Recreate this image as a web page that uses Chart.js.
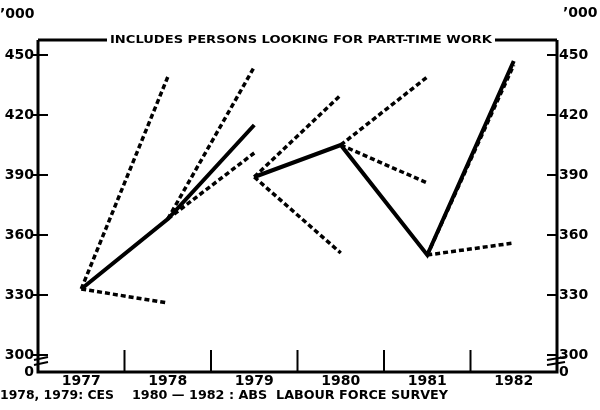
<!DOCTYPE html>
<html>
<head>
<meta charset="utf-8">
<script src="https://cdn.jsdelivr.net/npm/chart.js@4.4.1/dist/chart.umd.min.js"></script>
<style>
html, body { margin: 0; padding: 0; background: #fff; }
</style>
</head>
<body>
<canvas id="grafica" width="600" height="410"></canvas>
<script>
// datos ('000 personas)
const anios = ['1977', '1978', '1979', '1980', '1981', '1982'];
const ticksY = [300, 330, 360, 390, 420, 450];
const serieCES = [333, 368, 415, null, null, null];   // 1977-1979
const serieABS = [null, null, 389, 405, 350, 447];    // 1979-1982
// pronosticos: [indice de inicio, valor inicial, valor final]
const pronosticoAlto = [[0, 333, 439], [1, 368, 444], [2, 389, 430], [3, 405, 439], [4, 350, 445]];
const pronosticoBajo = [[0, 333, 326], [1, 368, 401], [2, 389, 351], [3, 405, 386], [4, 350, 356]];
const titulo = 'INCLUDES PERSONS LOOKING FOR PART-TIME WORK';
const nota1 = '1978, 1979: CES';
const nota2 = '1980 \u2014 1982 : ABS  LABOUR FORCE SURVEY';

const fondoY = 291.5; // valor donde se dibuja el "0" (eje cortado)
const fuente = 'DejaVu Sans';

function lineaPronostico(p) {
    const datos = anios.map(() => null);
    datos[p[0]] = p[1];
    datos[p[0] + 1] = p[2];
    return {
        data: datos,
        borderColor: '#000',
        borderWidth: 3.5,
        borderDash: [5, 3],
        pointRadius: 0,
        tension: 0,
        fill: false
    };
}

function lineaSolida(datos) {
    return {
        data: datos,
        borderColor: '#000',
        borderWidth: 4,
        pointRadius: 0,
        tension: 0,
        fill: false
    };
}

function textoAjustado(ctx, texto, cx, cy, ancho, font) {
    ctx.save();
    ctx.font = font;
    const w = ctx.measureText(texto).width;
    ctx.translate(cx, cy);
    ctx.scale(ancho / w, 1);
    ctx.textAlign = 'center';
    ctx.textBaseline = 'middle';
    ctx.fillText(texto, 0, 0);
    ctx.restore();
}

const decoracion = {
    id: 'decoracion',
    afterDraw(chart) {
        const { ctx, chartArea: a, scales } = chart;
        const x = scales.x, y = scales.y;
        ctx.save();
        ctx.strokeStyle = '#000';
        ctx.fillStyle = '#000';
        ctx.lineCap = 'butt';

        // ejes
        ctx.lineWidth = 3;
        ctx.beginPath();
        ctx.moveTo(a.left, a.top);
        ctx.lineTo(a.left, a.bottom);
        ctx.lineTo(a.right, a.bottom);
        ctx.lineTo(a.right, a.top);
        ctx.stroke();

        // linea superior cortada por el titulo
        ctx.beginPath();
        ctx.moveTo(a.left, a.top);
        ctx.lineTo(107, a.top);
        ctx.moveTo(495, a.top);
        ctx.lineTo(a.right, a.top);
        ctx.stroke();
        textoAjustado(ctx, titulo, 301, a.top, 382, 'bold 11px "' + fuente + '"');

        // marcas del eje Y
        ctx.lineWidth = 2;
        ticksY.forEach(v => {
            const py = y.getPixelForValue(v);
            ctx.beginPath();
            ctx.moveTo(a.left - 5, py);
            ctx.lineTo(a.left + 10, py);
            ctx.moveTo(a.right - 10, py);
            ctx.lineTo(a.right + 1, py);
            ctx.stroke();
        });

        // corte del eje
        const pc = y.getPixelForValue(300);
        [[a.left - 4, a.left + 10], [a.right - 10, a.right + 8]].forEach(([x0, x1]) => {
            ctx.beginPath();
            ctx.moveTo(x0, pc + 5); ctx.lineTo(x1, pc + 2);
            ctx.moveTo(x0, pc + 10); ctx.lineTo(x1, pc + 7);
            ctx.stroke();
        });

        // separadores de anios
        ctx.lineWidth = 2;
        for (let i = 0; i < anios.length - 1; i++) {
            const px = (x.getPixelForValue(i) + x.getPixelForValue(i + 1)) / 2;
            ctx.beginPath();
            ctx.moveTo(px, a.bottom);
            ctx.lineTo(px, a.bottom - 22);
            ctx.stroke();
        }

        // unidades y notas
        ctx.font = 'bold 14px "' + fuente + '"';
        ctx.textBaseline = 'middle';
        ctx.textAlign = 'left';
        ctx.fillText('\u2019000', 0, 14);
        ctx.fillText('\u2019000', 563, 13);
        textoAjustado(ctx, nota1, 57, 396, 114, 'bold 12px "' + fuente + '"');
        textoAjustado(ctx, nota2, 290, 396, 316, 'bold 12px "' + fuente + '"');
        ctx.restore();
    }
};

function ticksFijos(scale) {
    scale.ticks = [fondoY].concat(ticksY).map(v => ({ value: v }));
}

function etiquetaY(v) {
    return v === fondoY ? '0' : v;
}

const ctx = document.getElementById('grafica').getContext('2d');

new Chart(ctx, {
    type: 'line',
    data: {
        labels: anios,
        datasets: [
            lineaSolida(serieCES),
            lineaSolida(serieABS),
            ...pronosticoAlto.map(lineaPronostico),
            ...pronosticoBajo.map(lineaPronostico)
        ]
    },
    options: {
        responsive: false,
        animation: false,
        layout: { padding: { top: 40, left: 0, right: 0, bottom: 0 } },
        plugins: {
            legend: { display: false },
            title: { display: false },
            tooltip: { enabled: false }
        },
        scales: {
            x: {
                offset: true,
                grid: { display: false, drawTicks: false, tickLength: 0 },
                border: { display: false },
                ticks: {
                    color: '#000',
                    padding: 1,
                    maxRotation: 0,
                    font: { family: fuente, size: 14, weight: 'bold' }
                },
                afterFit(scale) { scale.height = 38; }
            },
            y: {
                position: 'left',
                min: fondoY,
                max: 457.5,
                grid: { display: false, drawTicks: false, tickLength: 0 },
                border: { display: false },
                afterBuildTicks: ticksFijos,
                ticks: {
                    color: '#000',
                    padding: 4,
                    callback: etiquetaY,
                    font: { family: fuente, size: 14, weight: 'bold' }
                },
                afterFit(scale) { scale.width = 38; }
            },
            y2: {
                position: 'right',
                min: fondoY,
                max: 457.5,
                grid: { display: false, drawTicks: false, tickLength: 0 },
                border: { display: false },
                afterBuildTicks: ticksFijos,
                ticks: {
                    color: '#000',
                    padding: 2,
                    callback: etiquetaY,
                    font: { family: fuente, size: 14, weight: 'bold' }
                },
                afterFit(scale) { scale.width = 43; }
            }
        }
    },
    plugins: [decoracion]
});
</script>
</body>
</html>
